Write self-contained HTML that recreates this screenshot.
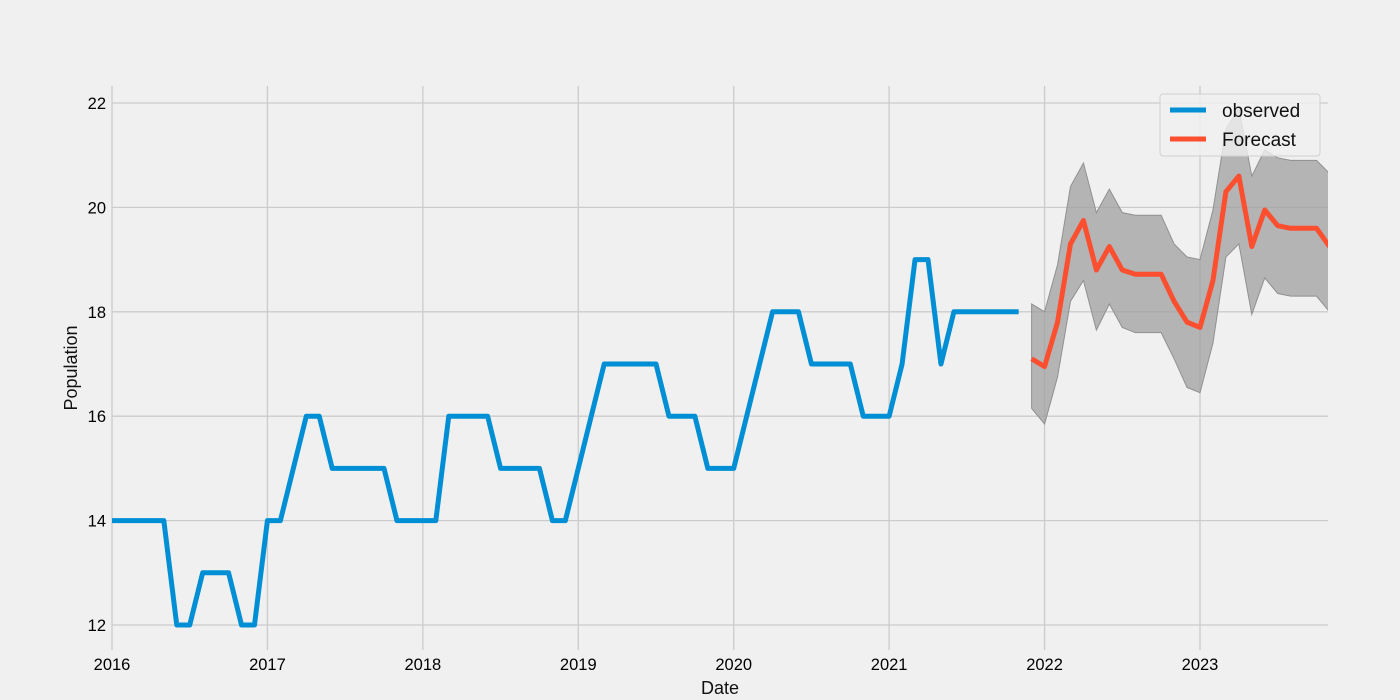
<!DOCTYPE html>
<html><head><meta charset="utf-8"><style>
html,body{margin:0;padding:0;background:#f0f0f0;}
svg{display:block;font-family:"Liberation Sans","DejaVu Sans",sans-serif;}
</style></head><body>
<svg id="chart" width="1400" height="700" viewBox="0 0 1400 700">
<defs><clipPath id="plotclip"><rect x="112" y="86" width="1216" height="564"/></clipPath></defs>
<rect width="1400" height="700" fill="#f0f0f0"/>
<g id="grid"></g><g id="band" clip-path="url(#plotclip)"></g><g id="lines" clip-path="url(#plotclip)"></g><g id="ticks"></g>
<text x="720" y="694" text-anchor="middle" font-size="18" fill="#111">Date</text>
<text x="77" y="368" text-anchor="middle" font-size="18" fill="#111" transform="rotate(-90 77 368)">Population</text>
<g>
<rect x="1160" y="94" width="160" height="62" rx="3" fill="#f0f0f0" fill-opacity="0.8" stroke="#d0d0d0"/>
<line x1="1170" y1="110" x2="1206" y2="110" stroke="#008fd5" stroke-width="5"/>
<text x="1222" y="117" font-size="19" fill="#111">observed</text>
<line x1="1170" y1="139" x2="1206" y2="139" stroke="#fc4f30" stroke-width="5"/>
<text x="1222" y="146" font-size="19" fill="#111">Forecast</text>
</g>
</svg>
<script>
const observed = [14,14,14,14,14,12,12,13,13,13,12,12,
 14,14,15,16,16,15,15,15,15,15,14,14,
 14,14,16,16,16,16,15,15,15,15,14,14,
 15,16,17,17,17,17,17,16,16,16,15,15,
 15,16,17,18,18,18,17,17,17,17,16,16,
 16,17,19,19,17,18,18,18,18,18,18];
const forecast = [17.1,16.95,17.8,19.3,19.75,18.8,19.25,18.8,18.72,18.72,18.72,18.2,17.8,17.7,18.6,20.3,20.6,19.25,19.95,19.65,19.6,19.6,19.6,19.25];
const upper = [18.15,18.0,18.9,20.4,20.85,19.9,20.35,19.9,19.85,19.85,19.85,19.3,19.05,19.0,19.95,21.5,21.9,20.6,21.1,20.95,20.9,20.9,20.9,20.65];
const lower = [16.15,15.85,16.75,18.2,18.6,17.65,18.15,17.7,17.6,17.6,17.6,17.1,16.55,16.45,17.4,19.05,19.3,17.95,18.65,18.35,18.3,18.3,18.3,18.0];
const yTicks = [12,14,16,18,20,22];
const xTicks = [2016,2017,2018,2019,2020,2021,2022,2023];
const forecastStart = 71;

const L=112,R=1328,T=86,B=650;
const xm = m => L + m*(1200-112)/84;
const xs = yr => xm((yr-2016)*12);
const ys = v => 625 - (v-12)*(625-103)/10;
const NS="http://www.w3.org/2000/svg";
function mk(tag,attrs,parent){const e=document.createElementNS(NS,tag);for(const k in attrs)e.setAttribute(k,attrs[k]);parent.appendChild(e);return e;}
const grid=document.getElementById('grid'),ticks=document.getElementById('ticks');
yTicks.forEach(v=>{
 const l=mk('line',{x1:L,x2:R,y1:ys(v),y2:ys(v),stroke:'#cbcbcb','stroke-width':1.3},grid);
 
 
 const t=mk('text',{x:L-6,y:ys(v)+6,'text-anchor':'end','font-size':16.5,fill:'#000'},ticks);
 t.textContent=v;
 
 
});
xTicks.forEach(yr=>{
 const l=mk('line',{x1:xs(yr),x2:xs(yr),y1:T,y2:B,stroke:'#cbcbcb','stroke-width':1.3},grid);
 
 
 const t=mk('text',{x:xs(yr),y:670,'text-anchor':'middle','font-size':16.5,fill:'#000'},ticks);
 t.textContent=yr;
 
 
});
let up=upper.map((v,i)=>xm(forecastStart+i)+','+ys(v));
let lo=lower.map((v,i)=>xm(forecastStart+i)+','+ys(v)).reverse();
const band=mk('polygon',{points:up.concat(lo).join(' '),fill:'#a0a0a0','fill-opacity':0.75,stroke:'#909090','stroke-width':1},document.getElementById('band'));


const lines=document.getElementById('lines');
const o=mk('polyline',{points:observed.map((v,i)=>xm(i)+','+ys(v)).join(' '),fill:'none',stroke:'#008fd5','stroke-width':5,'stroke-linejoin':'round'},lines);


const f=mk('polyline',{points:forecast.map((v,i)=>xm(forecastStart+i)+','+ys(v)).join(' '),fill:'none',stroke:'#fc4f30','stroke-width':5,'stroke-linejoin':'round'},lines);


</script>
</body></html>
